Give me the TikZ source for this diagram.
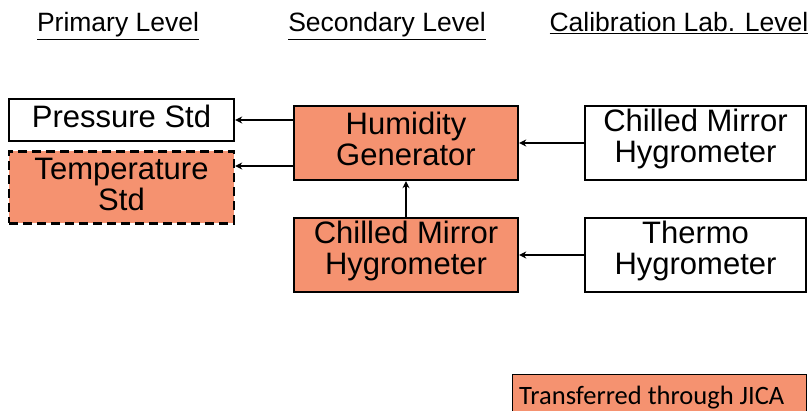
\documentclass[tikz,border=0pt]{standalone}
\usepackage{fontspec}
\setmainfont{Liberation Sans}
\newfontfamily\calfont{Carlito}
\usetikzlibrary{arrows.meta}
\definecolor{salmon}{RGB}{245,146,112}
\tikzset{
  box/.style={draw=black,line width=2.4pt,inner sep=0pt},
  boxtext/.style={inner sep=0pt,align=center,font=\fontsize{31}{30.5}\selectfont},
  filled/.style={fill=salmon},
  hdr/.style={font=\fontsize{26.5}{28}\selectfont,inner sep=0pt,anchor=base},
  conn/.style={line width=2.2pt,-{Stealth[length=7pt,width=7pt]}},
}
\begin{document}
\begin{tikzpicture}[x=1pt,y=-1pt]
\useasboundingbox (0,0) rectangle (812,411);
% headers
\node[hdr] (h1) at (118,32) {\underline{Primary Level}};
\node[hdr] (h2) at (387,32) {\underline{Secondary Level}};
\node[hdr] (h3) at (679,32) {\underline{Calibration Lab. Level}};
% boxes
\node[box,minimum width=225pt,minimum height=42pt] (ps) at (121.5,120) {};
\node[boxtext] (pst) at ([yshift=4pt]ps.center) {Pressure Std};
\node[box,filled,dashed,dash pattern=on 9pt off 5pt,minimum width=225pt,minimum height=72pt] (ts) at (121.5,187.5) {};
\node[boxtext] (tst) at ([yshift=3pt]ts.center) {Temperature\\Std};
\node[box,filled,minimum width=224pt,minimum height=74pt] (hg) at (406,143) {};
\node[boxtext] (hgt) at ([yshift=4pt]hg.center) {Humidity\\Generator};
\node[box,filled,minimum width=224pt,minimum height=74pt] (cm) at (406,255) {};
\node[boxtext] (cmt) at ([yshift=4pt]cm.center) {Chilled Mirror\\Hygrometer};
\node[box,minimum width=221pt,minimum height=74pt] (cmr) at (695.5,143) {};
\node[boxtext] (cmrt) at ([yshift=4pt]cmr.center) {Chilled Mirror\\Hygrometer};
\node[box,minimum width=221pt,minimum height=74pt] (th) at (695.5,255) {};
\node[boxtext] (tht) at ([yshift=4pt]th.center) {Thermo\\Hygrometer};
% legend
\node[draw=black,line width=1pt,fill=salmon,minimum width=294pt,minimum height=40pt,inner sep=0pt] (lg) at (659,395) {};
\node[inner sep=0pt,anchor=base west,font=\calfont\fontsize{26.5}{28}\selectfont] (lgt) at (519,405) {Transferred through JICA};
% connectors
\draw[conn] (hg.west |- ps.east) -- (ps.east);
\draw[conn] (hg.west |- 0,166) -- (ts.east |- 0,166);
\draw[conn] (cmr.west) -- (hg.east);
\draw[conn] (th.west) -- (cm.east);
\draw[conn] (cm.north) -- (hg.south);
\end{tikzpicture}
\end{document}
